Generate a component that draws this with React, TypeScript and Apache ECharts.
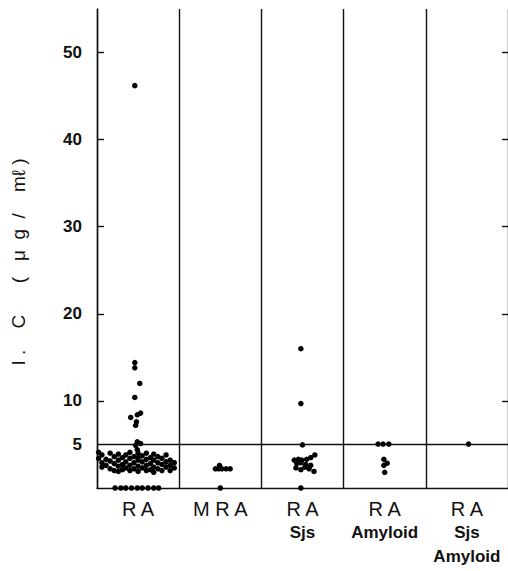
import React, { useEffect, useRef } from "react";
import * as echarts from "echarts";

// Category labels (main line + sub lines)
const categories = ["R A", "M R A", "R A", "R A", "R A"];
const subLabels = ["", "", "Sjs", "Amyloid", "Sjs\nAmyloid"];

// Y axis labels / ticks
const yLabelValues = [5, 10, 20, 30, 40, 50];
const yTickValues = [10, 20, 30, 40, 50];
const cutoffValue = 5;
const yTitle = "I\u00A0.\u00A0\u00A0\u00A0\u00A0C\u00A0\u00A0\u00A0\u00A0\u00A0\u00A0(\u00A0\u00A0\u00A0μ\u00A0\u00A0g\u00A0\u00A0/\u00A0\u00A0\u00A0\u00A0mℓ\u00A0)";

// Points per column: [horizontal offset within column, value µg/ml]
const raPoints: [number, number][] = [
  [-0.04, 46.2], [-0.04, 14.4], [-0.04, 13.8], [0.02, 12.0], [-0.04, 10.4],
  [-0.09, 8.1], [-0.01, 8.4], [0.03, 8.6], [-0.02, 7.6], [-0.03, 7.2],
  [-0.01, 5.3], [-0.03, 4.9], [0.03, 5.1], [-0.01, 4.4], [0.0, 4.0],
  [-0.28, 0], [-0.21, 0], [-0.15, 0], [-0.08, 0], [-0.01, 0], [0.05, 0], [0.12, 0], [0.19, 0], [0.25, 0],
  [-0.48, 4.1], [-0.48, 3.4],
  [-0.44, 3.8], [-0.44, 2.9], [-0.44, 2.4],
  [-0.39, 3.3], [-0.39, 2.6],
  [-0.34, 4.0], [-0.34, 3.1], [-0.34, 2.2],
  [-0.29, 3.6], [-0.29, 2.8], [-0.29, 2.0],
  [-0.24, 3.9], [-0.24, 3.2], [-0.24, 2.5], [-0.24, 1.9],
  [-0.19, 3.5], [-0.19, 2.7], [-0.19, 2.1],
  [-0.15, 3.8], [-0.15, 3.0], [-0.15, 2.3],
  [-0.10, 4.1], [-0.10, 3.4], [-0.10, 2.6], [-0.10, 2.0],
  [-0.05, 3.6], [-0.05, 2.9], [-0.05, 2.2],
  [0.0, 3.5], [0.0, 3.2], [0.0, 2.5], [0.0, 1.9],
  [0.05, 3.7], [0.05, 3.0], [0.05, 2.3],
  [0.10, 4.0], [0.10, 3.3], [0.10, 2.6], [0.10, 2.0],
  [0.15, 3.5], [0.15, 2.8], [0.15, 2.1],
  [0.19, 3.9], [0.19, 3.2], [0.19, 2.4], [0.19, 1.8],
  [0.24, 3.6], [0.24, 2.9], [0.24, 2.2],
  [0.29, 3.4], [0.29, 2.7], [0.29, 2.0],
  [0.34, 3.8], [0.34, 3.0], [0.34, 2.4],
  [0.39, 3.2], [0.39, 2.6], [0.39, 2.0],
  [0.44, 2.9], [0.44, 2.3],
];
const mraPoints: [number, number][] = [
  [-0.01, 2.6], [-0.06, 2.2], [-0.02, 2.2], [0.02, 2.2], [0.07, 2.2], [0.12, 2.2], [0.0, 0],
];
const raSjsPoints: [number, number][] = [
  [-0.02, 16.0], [-0.02, 9.7], [0.0, 4.95],
  [-0.10, 3.2], [-0.05, 3.3], [-0.01, 3.2], [0.05, 3.3], [0.10, 3.5], [0.15, 3.8],
  [-0.07, 2.8], [-0.02, 2.9], [0.04, 2.7],
  [-0.08, 2.3], [-0.02, 2.1], [0.03, 2.4], [0.08, 2.2], [0.14, 1.9], [0.10, 2.6],
  [-0.02, 0],
];
const raAmyloidPoints: [number, number][] = [
  [-0.08, 5.05], [-0.02, 5.05], [0.05, 5.05],
  [-0.01, 3.3], [0.03, 2.85], [-0.01, 2.6], [0.0, 1.8],
];
const raSjsAmyloidPoints: [number, number][] = [[0.02, 5.05]];

const columnPoints = [raPoints, mraPoints, raSjsPoints, raAmyloidPoints, raSjsAmyloidPoints];

const LINE = "#111";
const FONT = "'Liberation Sans', Arial, Helvetica, sans-serif";

export default function App() {
  const ref = useRef<HTMLDivElement>(null);
  useEffect(() => {
    if (!ref.current) return;
    const chart = echarts.init(ref.current, undefined, { renderer: "svg" });
    const data: [number, number][] = [];
    columnPoints.forEach((pts, i) => {
      pts.forEach(([dx, v]) => data.push([i + 0.5 + dx, v]));
    });
    chart.setOption({
      animation: false,
      backgroundColor: "#fff",
      grid: { left: 97, right: -3, top: 9, bottom: 83 },
      xAxis: [
        {
          type: "category",
          data: categories.map((c, i) => ({ value: c + "|" + subLabels[i] })),
          boundaryGap: true,
          axisLine: { show: true, lineStyle: { color: LINE, width: 1.4 } },
          axisTick: { show: false },
          splitLine: { show: true, interval: 0, lineStyle: { color: LINE, width: 1.4 } },
          axisLabel: {
            interval: 0,
            margin: 10,
            formatter: (val: string) => {
              const [main, sub] = val.split("|");
              let s = "{a|" + main + "}";
              if (sub) sub.split("\n").forEach((t) => (s += "\n{b|" + t + "}"));
              return s;
            },
            rich: {
              a: { fontSize: 20, lineHeight: 22, fontFamily: FONT, color: "#111" },
              b: { fontSize: 17, lineHeight: 24, fontFamily: FONT, fontWeight: "bold", color: "#111" },
            },
          },
        },
        { type: "value", min: 0, max: 5, show: false },
      ],
      yAxis: [
        {
          type: "value",
          min: 0,
          max: 55,
          axisLine: { show: true, lineStyle: { color: LINE, width: 1.4 } },
          axisTick: { show: true, inside: true, length: 7, customValues: yTickValues, lineStyle: { color: LINE, width: 1.4 } },
          axisLabel: {
            customValues: yLabelValues,
            margin: 15,
            fontSize: 17,
            fontWeight: "bold",
            fontFamily: FONT,
            color: "#111",
          },
          splitLine: { show: false },
        },
        {
          type: "value",
          min: 0,
          max: 55,
          position: "right",
          axisLine: { show: false },
          axisTick: { show: true, inside: true, length: 6, customValues: yTickValues, lineStyle: { color: LINE, width: 1.4 } },
          axisLabel: { show: false },
          splitLine: { show: false },
        },
      ],
      graphic: [
        {
          type: "text",
          x: 18,
          y: 262,
          rotation: Math.PI / 2,
          style: {
            text: yTitle,
            fontSize: 19,
            fontFamily: FONT,
            fill: "#111",
            align: "center",
            verticalAlign: "middle",
            textAlign: "center",
            textVerticalAlign: "middle",
          },
        },
      ],
      series: [
        {
          type: "scatter",
          xAxisIndex: 1,
          yAxisIndex: 0,
          symbol: "circle",
          symbolSize: 5.5,
          itemStyle: { color: "#000", opacity: 1 },
          data,
          markLine: {
            silent: true,
            symbol: "none",
            label: { show: false },
            lineStyle: { color: LINE, width: 1.4, type: "solid" },
            data: [{ yAxis: cutoffValue }],
          },
        },
      ],
    });
    return () => chart.dispose();
  }, []);
  return <div ref={ref} style={{ position: "absolute", left: 0, top: 0, width: 508, height: 571 }} />;
}
